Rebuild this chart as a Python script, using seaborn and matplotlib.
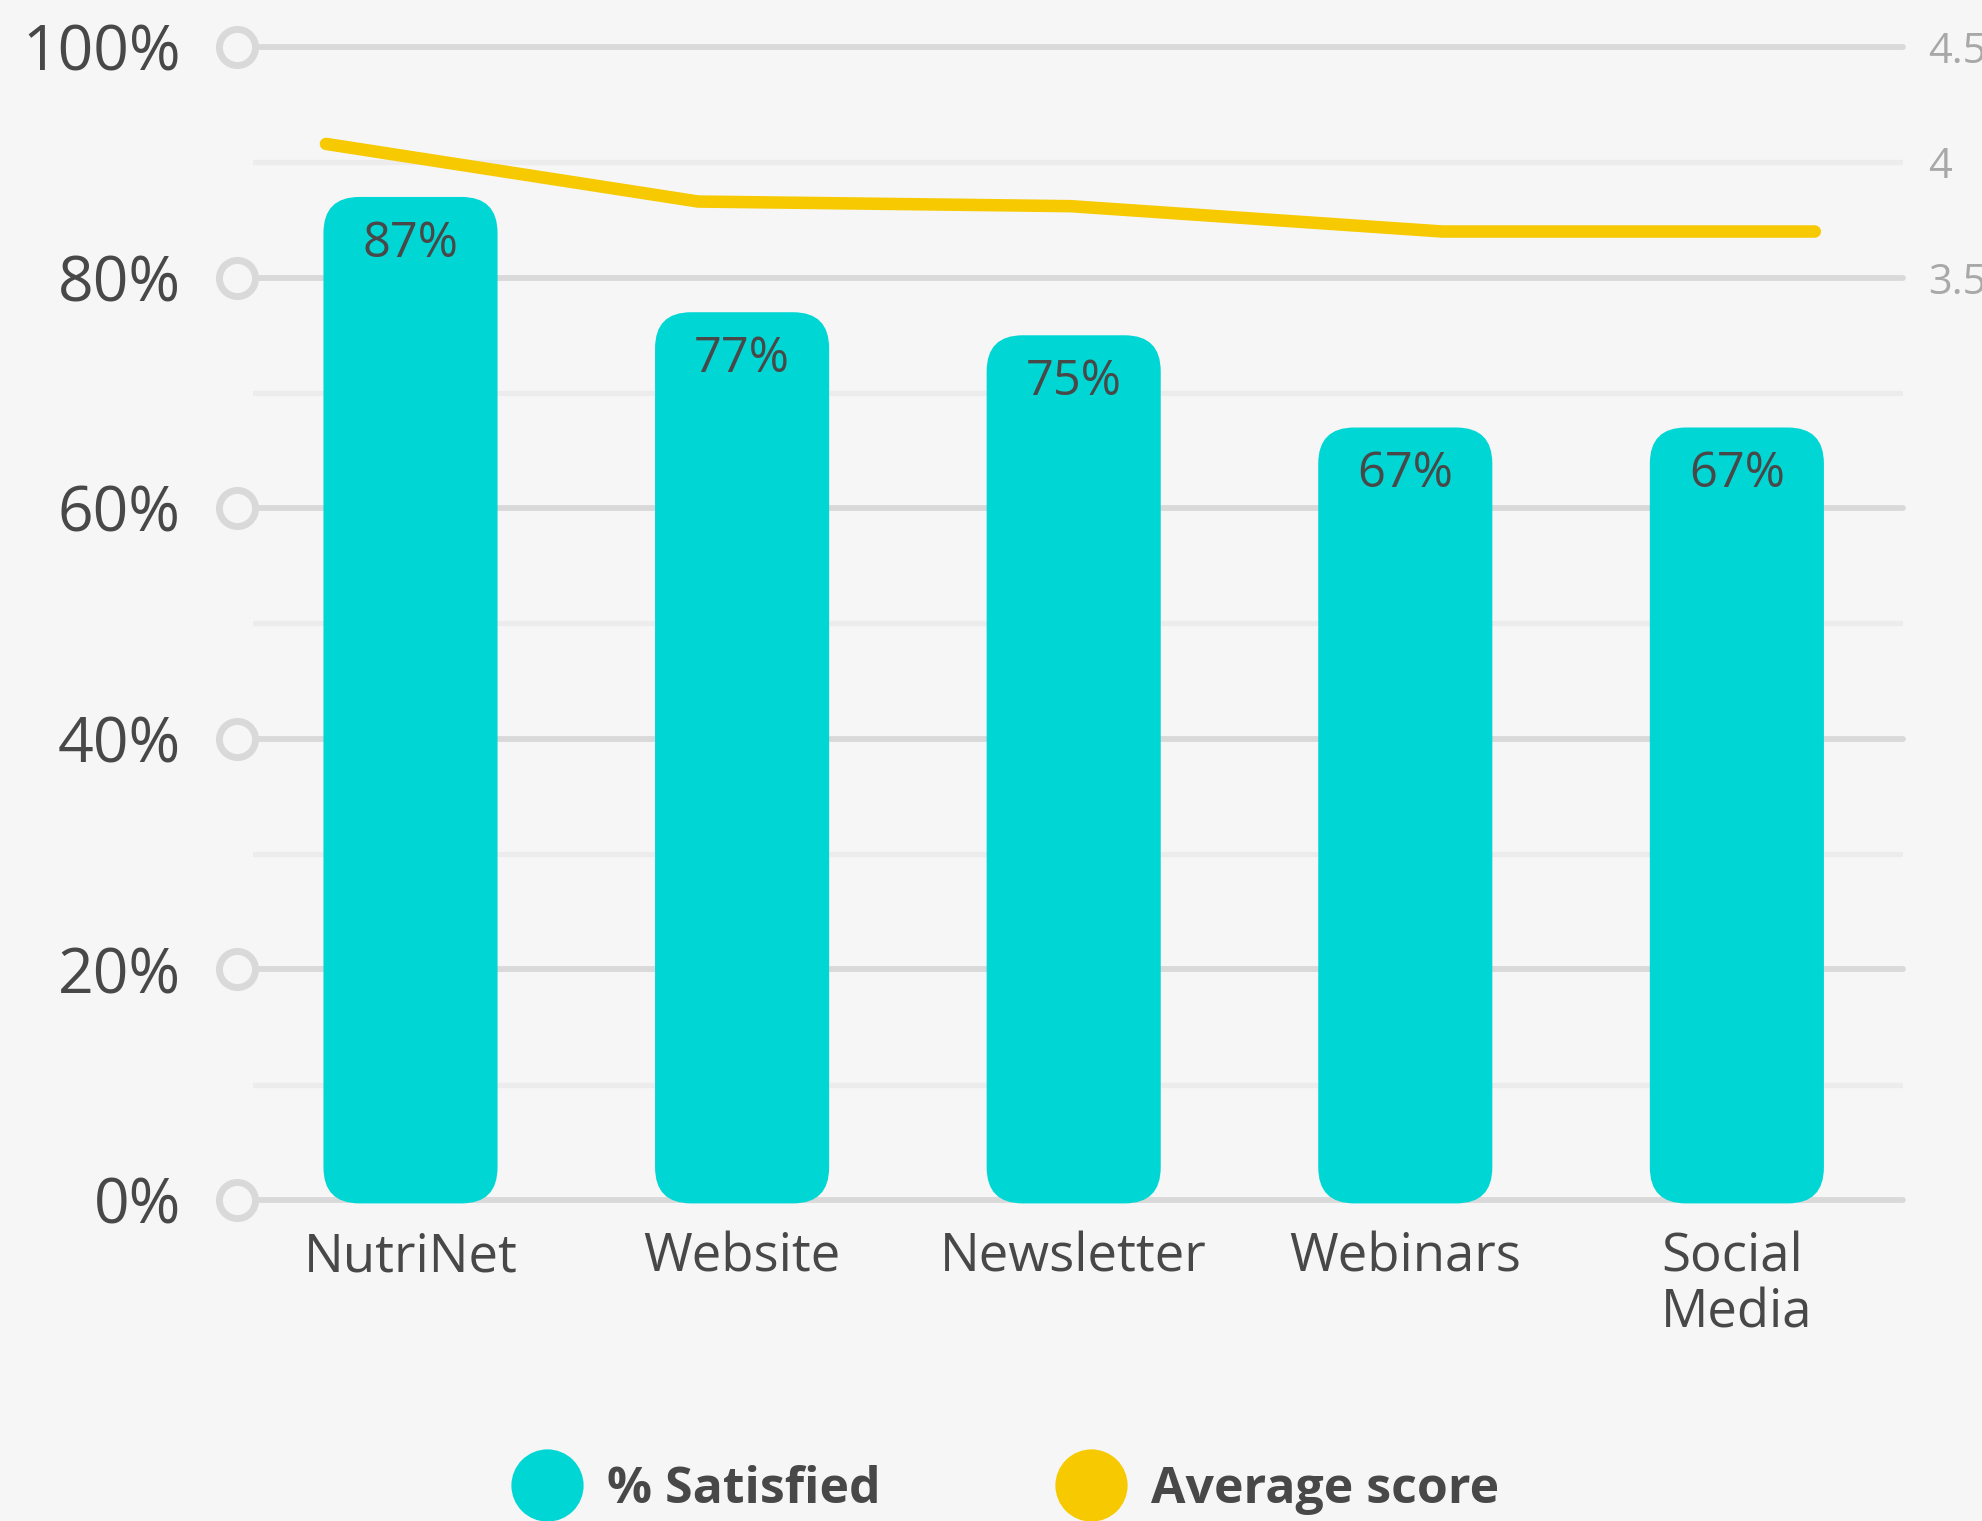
import numpy as np
import pandas as pd
import matplotlib
matplotlib.use("Agg")
import matplotlib.pyplot as plt
import seaborn as sns
from matplotlib.patches import FancyBboxPatch
from matplotlib.lines import Line2D

# ---- data ----
categories = ["NutriNet", "Website", "Newsletter", "Webinars", "Social\nMedia"]
satisfied_pct = [87, 77, 75, 67, 67]
average_score = [4.08, 3.83, 3.81, 3.70, 3.70]
pct_ticks = [0, 20, 40, 60, 80, 100]
pct_tick_labels = ["0%", "20%", "40%", "60%", "80%", "100%"]
pct_minor = [10, 30, 50, 70, 90]
score_ticks = [3.5, 4, 4.5]
score_tick_labels = ["3.5", "4", "4.5"]
legend_labels = ["% Satisfied", "Average score"]

# ---- style ----
BG = "#f6f6f6"
TEAL = "#00d6d3"
YELLOW = "#f7c900"
GRID = "#d9d9d9"
GRID_LIGHT = "#ececec"
TEXT = "#484848"
TEXT_LIGHT = "#a8a8a8"

sns.set_theme(style="white")
plt.rcParams["font.family"] = ["Open Sans", "DejaVu Sans"]

W, H = 1983, 1521
fig = plt.figure(figsize=(W / 100, H / 100), dpi=100, facecolor=BG)

left_px, right_px, top_px, bottom_px = 253, 1903, 24, 1223
rect = [left_px / W, 1 - bottom_px / H, (right_px - left_px) / W, (bottom_px - top_px) / H]
ax = fig.add_axes(rect, facecolor="none")

df = pd.DataFrame({"channel": categories, "satisfied": satisfied_pct, "score": average_score})

bar_w = 0.525
sns.barplot(data=df, x="channel", y="satisfied", color=TEAL, width=bar_w,
            saturation=1, ax=ax, zorder=2)

xlo, xhi = -0.475, 4.501
ax.set_xlim(xlo, xhi)
ax.set_ylim(-2, 102)

# rounded bar shapes
px_x = (right_px - left_px) / (xhi - xlo)
px_y = (bottom_px - top_px) / 104
radius_px = 36
r = radius_px / px_x
aspect = (radius_px / px_y) / r
for p in list(ax.patches):
    x0, w, h = p.get_x(), p.get_width(), p.get_height()
    p.remove()
    ax.add_patch(FancyBboxPatch((x0, -0.3), w, h + 0.3,
                                boxstyle=f"round,pad=0,rounding_size={r}",
                                mutation_aspect=aspect, fc=TEAL, ec="none", zorder=2))

# grid lines
circle_x = xlo - (left_px - 237) / px_x
ax.hlines(pct_minor, xlo, xhi, color=GRID_LIGHT, lw=3.8, capstyle="round", zorder=0)
ax.hlines(pct_ticks, circle_x, xhi, color=GRID, lw=4.2, capstyle="round", zorder=1, clip_on=False)
ax.plot([circle_x] * len(pct_ticks), pct_ticks, "o", ms=26, mfc=BG, mec=GRID, mew=5,
        clip_on=False, zorder=3)

# value labels inside bars
for i, v in enumerate(satisfied_pct):
    ax.annotate(f"{v}%", (i, v), xytext=(0, -34), textcoords="offset points",
                ha="center", va="center", fontsize=35, color=TEXT, zorder=4)

ax.set_yticks(pct_ticks, pct_tick_labels)
ax.tick_params(axis="y", length=0, pad=52, labelsize=45, labelcolor=TEXT)
ax.tick_params(axis="x", length=0, pad=6, labelsize=38, labelcolor=TEXT)
for lbl in ax.get_xticklabels():
    lbl.set_multialignment("left")
    lbl.set_linespacing(1.05)
ax.set_xlabel("")
ax.set_ylabel("")
for s in ax.spines.values():
    s.set_visible(False)

# average score line on its own overlay axes
lax = fig.add_axes(rect, facecolor="none")
sns.lineplot(data=df, x="channel", y="score", color=YELLOW, linewidth=9, sort=False, ax=lax)
for ln in lax.lines:
    ln.set_solid_capstyle("round")
    ln.set_solid_joinstyle("miter")
lax.set_xlim(-0.196, 4.237)
lax.set_ylim(-0.6, 4.6)
lax.set_xticks([])
lax.yaxis.tick_right()
lax.set_yticks(score_ticks, score_tick_labels)
lax.tick_params(axis="y", length=0, pad=18, labelsize=30, labelcolor=TEXT_LIGHT)
lax.set_xlabel("")
lax.set_ylabel("")
for s in lax.spines.values():
    s.set_visible(False)

# legend
handles = [Line2D([], [], marker="o", ls="", ms=52, mfc=TEAL, mec="none"),
           Line2D([], [], marker="o", ls="", ms=52, mfc=YELLOW, mec="none")]
fig.legend(handles, legend_labels, loc="center", bbox_to_anchor=(0.507, 0.0205), ncol=2,
           frameon=False, prop={"weight": "bold", "size": 36}, labelcolor=TEXT,
           handlelength=1.4, handletextpad=0.5, columnspacing=3.5)

fig.savefig("out.png", dpi=100, facecolor=BG)
